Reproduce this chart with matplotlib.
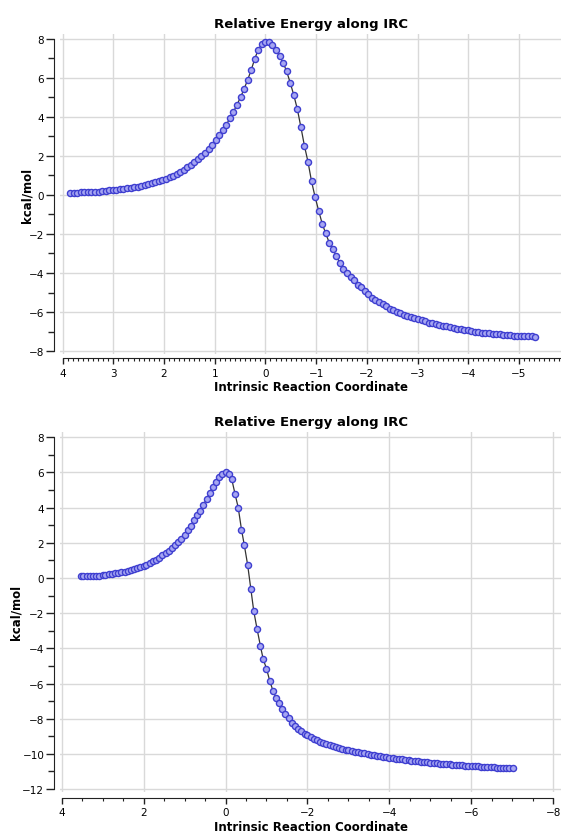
import numpy as np
import matplotlib
matplotlib.use("Agg")
import matplotlib.pyplot as plt
from matplotlib.ticker import MultipleLocator

# ---- IRC 1 (top) ----
irc1_x = [3.85, 3.78, 3.71, 3.64, 3.57, 3.50, 3.43, 3.36, 3.29, 3.22,
          3.15, 3.08, 3.01, 2.94, 2.87, 2.80, 2.73, 2.66, 2.59, 2.52,
          2.45, 2.38, 2.31, 2.24, 2.17, 2.10, 2.03, 1.96, 1.89, 1.82,
          1.75, 1.68, 1.61, 1.54, 1.47, 1.40, 1.33, 1.26, 1.19, 1.12,
          1.05, 0.98, 0.91, 0.84, 0.77, 0.70, 0.63, 0.56, 0.49, 0.42,
          0.35, 0.28, 0.21, 0.14, 0.07, 0.00,
          -0.07, -0.14, -0.21, -0.28, -0.35, -0.42, -0.49, -0.56, -0.63, -0.70,
          -0.77, -0.84, -0.91, -0.98, -1.05, -1.12, -1.19, -1.26, -1.33, -1.40,
          -1.47, -1.54, -1.61, -1.68, -1.75, -1.82, -1.89, -1.96, -2.03, -2.10,
          -2.17, -2.24, -2.31, -2.38, -2.45, -2.52, -2.59, -2.66, -2.73, -2.80,
          -2.87, -2.94, -3.01, -3.08, -3.15, -3.22, -3.29, -3.36, -3.43, -3.50,
          -3.57, -3.64, -3.71, -3.78, -3.85, -3.92, -3.99, -4.06, -4.13, -4.20,
          -4.27, -4.34, -4.41, -4.48, -4.55, -4.62, -4.69, -4.76, -4.83, -4.90,
          -4.97, -5.04, -5.11, -5.18, -5.25, -5.32]
irc1_e = [0.10, 0.11, 0.12, 0.13, 0.13, 0.14, 0.15, 0.16, 0.17, 0.19,
          0.21, 0.23, 0.25, 0.27, 0.29, 0.31, 0.34, 0.37, 0.40, 0.43,
          0.47, 0.51, 0.55, 0.60, 0.65, 0.70, 0.76, 0.83, 0.91, 0.99,
          1.08, 1.18, 1.29, 1.41, 1.54, 1.68, 1.83, 1.99, 2.17, 2.36,
          2.57, 2.80, 3.05, 3.32, 3.61, 3.92, 4.26, 4.62, 5.01, 5.43,
          5.90, 6.40, 6.98, 7.45, 7.74, 7.85,
          7.83, 7.67, 7.44, 7.10, 6.78, 6.33, 5.75, 5.12, 4.40, 3.48,
          2.52, 1.70, 0.70, -0.10, -0.80, -1.47, -1.97, -2.45, -2.79, -3.13,
          -3.50, -3.77, -3.98, -4.21, -4.38, -4.60, -4.73, -4.92, -5.09, -5.26,
          -5.37, -5.49, -5.60, -5.71, -5.83, -5.91, -6.00, -6.07, -6.13, -6.21,
          -6.26, -6.32, -6.38, -6.43, -6.48, -6.55, -6.58, -6.63, -6.67, -6.70,
          -6.74, -6.78, -6.82, -6.85, -6.89, -6.91, -6.94, -6.97, -7.00, -7.03,
          -7.05, -7.08, -7.09, -7.11, -7.13, -7.15, -7.17, -7.18, -7.20, -7.21,
          -7.22, -7.23, -7.23, -7.24, -7.25, -7.26]

# ---- IRC 2 (bottom) ----
irc2_x = [3.54, 3.47, 3.39, 3.31, 3.23, 3.16, 3.08, 3.00, 2.93, 2.85,
          2.77, 2.70, 2.62, 2.54, 2.46, 2.39, 2.31, 2.23, 2.16, 2.08,
          2.00, 1.93, 1.85, 1.77, 1.69, 1.62, 1.54, 1.46, 1.39, 1.31,
          1.23, 1.16, 1.08, 1.00, 0.92, 0.85, 0.77, 0.69, 0.62, 0.54,
          0.46, 0.39, 0.31, 0.23, 0.15, 0.08, 0.00,
          -0.08, -0.15, -0.23, -0.31, -0.39, -0.46, -0.54, -0.62, -0.69, -0.77,
          -0.85, -0.92, -1.00, -1.08, -1.16, -1.23, -1.31, -1.39, -1.46, -1.54,
          -1.62, -1.69, -1.77, -1.85, -1.93, -2.00, -2.08, -2.16, -2.23, -2.31,
          -2.39, -2.46, -2.54, -2.62, -2.70, -2.77, -2.85, -2.93, -3.00, -3.08,
          -3.16, -3.23, -3.31, -3.39, -3.47, -3.54, -3.62, -3.70, -3.77, -3.85,
          -3.93, -4.00, -4.08, -4.16, -4.24, -4.31, -4.39, -4.47, -4.54, -4.62,
          -4.70, -4.77, -4.85, -4.93, -5.00, -5.08, -5.16, -5.24, -5.31, -5.39,
          -5.47, -5.54, -5.62, -5.70, -5.78, -5.85, -5.93, -6.01, -6.08, -6.16,
          -6.24, -6.31, -6.39, -6.47, -6.55, -6.62, -6.70, -6.78, -6.85, -6.93,
          -7.01]
irc2_e = [0.09, 0.09, 0.10, 0.10, 0.11, 0.12, 0.14, 0.17, 0.19, 0.21,
          0.24, 0.26, 0.29, 0.32, 0.35, 0.39, 0.43, 0.49, 0.54, 0.61,
          0.68, 0.75, 0.84, 0.94, 1.05, 1.16, 1.28, 1.42, 1.54, 1.70,
          1.86, 2.02, 2.22, 2.43, 2.71, 2.95, 3.28, 3.57, 3.79, 4.17,
          4.48, 4.85, 5.20, 5.48, 5.74, 5.92, 6.00,
          5.93, 5.64, 4.80, 4.00, 2.75, 1.85, 0.75, -0.65, -1.89, -2.90,
          -3.84, -4.62, -5.15, -5.85, -6.42, -6.80, -7.12, -7.45, -7.74, -7.98,
          -8.27, -8.43, -8.59, -8.72, -8.85, -8.94, -9.05, -9.14, -9.22, -9.30,
          -9.38, -9.45, -9.52, -9.57, -9.63, -9.68, -9.72, -9.77, -9.80, -9.84,
          -9.88, -9.90, -9.93, -9.97, -10.00, -10.04, -10.08, -10.11, -10.14, -10.16,
          -10.19, -10.22, -10.25, -10.27, -10.28, -10.31, -10.34, -10.35, -10.38, -10.40,
          -10.42, -10.44, -10.45, -10.48, -10.50, -10.52, -10.53, -10.55, -10.57, -10.59,
          -10.60, -10.62, -10.63, -10.64, -10.65, -10.66, -10.68, -10.70, -10.70, -10.71,
          -10.73, -10.74, -10.75, -10.76, -10.77, -10.78, -10.78, -10.79, -10.80, -10.80,
          -10.81]

plt.rcParams['font.family'] = ['DejaVu Sans']
plt.rcParams['font.size'] = 7.5

fig = plt.figure(figsize=(5.61, 8.37), dpi=100)


def irc_panel(ax, x, e, xlim, ylim, xmajor, xminor, xbound, bottom_off, ypad):
    ax.plot(x, e, color='#333333', lw=0.9, marker='o', ms=4.4,
            mfc='#a6a6f2', mec='#3f3fd0', mew=1.0, zorder=3)
    ax.set_xlim(*xlim)
    ax.set_ylim(*ylim)
    ax.xaxis.set_major_locator(MultipleLocator(xmajor))
    ax.xaxis.set_minor_locator(MultipleLocator(xminor))
    ax.yaxis.set_major_locator(MultipleLocator(2))
    ax.yaxis.set_minor_locator(MultipleLocator(1))
    ax.grid(True, which='major', color='#d9d9d9', lw=1.0, zorder=0)
    for s in ['top', 'right']:
        ax.spines[s].set_visible(False)
    ax.spines['left'].set_position(('outward', 4.3))
    ax.spines['bottom'].set_position(('outward', bottom_off))
    ax.spines['left'].set_bounds(ylim[0] + 0.15, 8)
    ax.spines['bottom'].set_bounds(4, xbound)
    ax.spines['left'].set_color('#222222')
    ax.spines['bottom'].set_color('#222222')
    ax.tick_params(axis='y', which='major', length=5.5, width=1.0, pad=1.5,
                   color='#222222')
    ax.tick_params(axis='y', which='minor', length=4.3, width=1.0, color='#222222')
    ax.tick_params(axis='x', which='major', length=4.0, width=1.0, pad=3,
                   color='#222222')
    ax.tick_params(axis='x', which='minor', length=2.5, width=0.8, color='#222222')
    ax.set_title('Relative Energy along IRC', fontsize=9.5, fontweight='bold', pad=5)
    ax.set_xlabel('Intrinsic Reaction Coordinate', fontsize=8.5, fontweight='bold',
                  labelpad=2)
    ax.set_ylabel('kcal/mol', fontsize=8.5, fontweight='bold', labelpad=ypad)


ax1 = fig.add_axes([0.107, 0.5759, 0.893, 0.3823])
irc_panel(ax1, irc1_x, irc1_e, (4.05, -5.83), (-8.15, 8.25), 1, 0.1, -5.83, 2.9, -3)

ax2 = fig.add_axes([0.107, 0.0529, 0.893, 0.4298])
irc_panel(ax2, irc2_x, irc2_e, (4.04, -8.19), (-12.15, 8.3), 2, 0.5, -8, 4.3, 0)

fig.savefig('out.png', dpi=100)
